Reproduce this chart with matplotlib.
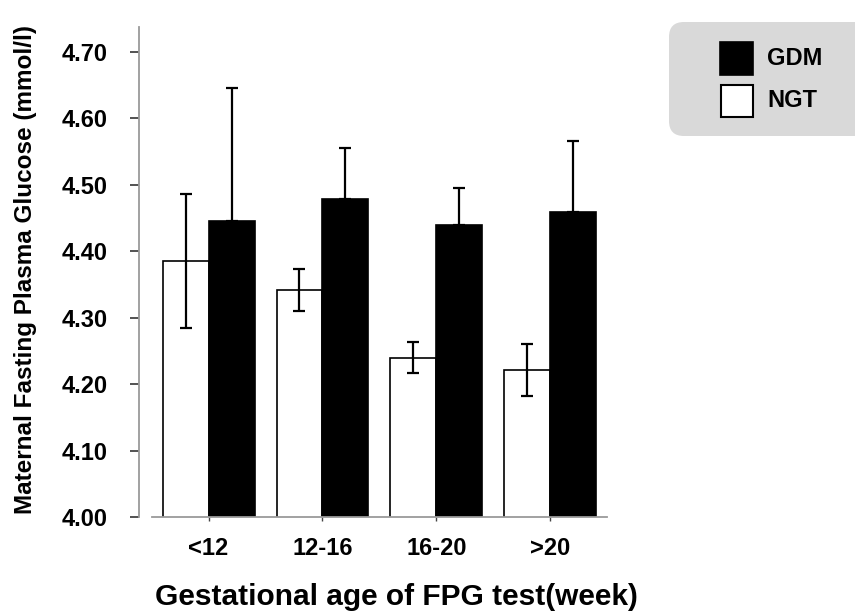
import matplotlib
matplotlib.use("Agg")
import matplotlib.pyplot as plt
import numpy as np
from matplotlib.patches import FancyBboxPatch, Rectangle

categories = ["<12", "12-16", "16-20", ">20"]
ngt_mean = [4.385, 4.342, 4.240, 4.222]
ngt_sd = [0.101, 0.032, 0.023, 0.039]
gdm_mean = [4.445, 4.479, 4.439, 4.459]
gdm_sd = [0.200, 0.077, 0.056, 0.107]
yticks = [4.00, 4.10, 4.20, 4.30, 4.40, 4.50, 4.60, 4.70]

plt.rcParams['font.family'] = ['Liberation Sans', 'DejaVu Sans']
plt.rcParams['font.weight'] = 'bold'

W, H = 855, 613
fig = plt.figure(figsize=(W / 100, H / 100), dpi=100)

ax_l, ax_r, ax_t, ax_b = 151.7, 607.0, 27.3, 517.3
ax = fig.add_axes([ax_l / W, 1 - ax_b / H, (ax_r - ax_l) / W, (ax_b - ax_t) / H])

x = np.arange(len(categories))
bw = 0.4035
ax.bar(x - bw / 2, ngt_mean, bw, color='white', edgecolor='black',
       linewidth=1.2, zorder=2)
ax.bar(x + bw / 2, gdm_mean, bw, color='black', edgecolor='black',
       linewidth=1.2, zorder=2)
ax.errorbar(x - bw / 2, ngt_mean, yerr=ngt_sd, fmt='none', ecolor='black',
            elinewidth=1.6, capsize=4.5, capthick=1.6, zorder=3)
ax.errorbar(x + bw / 2, gdm_mean, yerr=[np.zeros(len(gdm_sd)), gdm_sd], fmt='none',
            ecolor='black', elinewidth=1.6, capsize=4.5, capthick=1.6, zorder=3)

ax.set_xlim(-0.5, 3.5)
ax.set_ylim(4.0, 4.737)
ax.set_yticks(yticks)
ax.set_yticklabels([f"{v:.2f}" for v in yticks])
ax.set_xticks(x)
ax.set_xticklabels(categories)

for s in ['top', 'right']:
    ax.spines[s].set_visible(False)
ax.spines['left'].set_position(('outward', 9.4))
ax.spines['left'].set_color('#9a9a9a')
ax.spines['left'].set_linewidth(1.3)
ax.spines['left'].set_bounds(4.0, 4.737)
ax.spines['bottom'].set_color('#9a9a9a')
ax.spines['bottom'].set_linewidth(1.3)

ax.tick_params(axis='y', length=6.5, width=1.3, color='#444444', pad=16,
               labelsize=17)
ax.tick_params(axis='x', length=3, width=1.0, color='#444444', pad=11,
               labelsize=17)
for lab in ax.get_xticklabels() + ax.get_yticklabels():
    lab.set_fontweight('bold')

# overlay in pixel coordinates for labels and legend
ov = fig.add_axes([0, 0, 1, 1], zorder=-1)
ov.set_xlim(0, W)
ov.set_ylim(H, 0)
ov.axis('off')

ov.text(396, 597, "Gestational age of FPG test(week)", ha='center', va='center',
        fontsize=21.5, fontweight='bold')
ov.text(25.4, 270, "Maternal Fasting Plasma Glucose (mmol/l)", ha='center',
        va='center', rotation=90, fontsize=17.5, fontweight='bold')

ov2 = fig.add_axes([0, 0, 1, 1], zorder=5)
ov2.set_xlim(0, W)
ov2.set_ylim(H, 0)
ov2.axis('off')
ov2.add_patch(FancyBboxPatch((684, 37), 184, 84, boxstyle="round,pad=15,rounding_size=15",
                             facecolor='#d9d9d9', edgecolor='none'))
ov2.add_patch(Rectangle((720, 42), 33, 33, facecolor='black', edgecolor='black', lw=1.2))
ov2.add_patch(Rectangle((721, 85), 32, 32, facecolor='white', edgecolor='black', lw=1.5))
ov2.text(767, 58.5, "GDM", ha='left', va='center', fontsize=17, fontweight='bold')
ov2.text(767, 100.5, "NGT", ha='left', va='center', fontsize=17, fontweight='bold')

fig.savefig("out.png", dpi=100)
